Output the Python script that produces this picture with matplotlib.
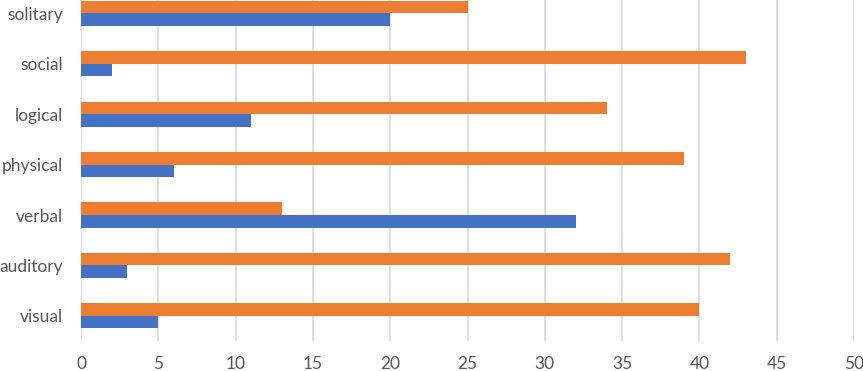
import matplotlib.pyplot as plt
import numpy as np

styles = ["visual", "auditory", "verbal", "physical", "logical", "social", "solitary"]
blue_vals = [5, 3, 32, 6, 11, 2, 20]
orange_vals = [40, 42, 13, 39, 34, 43, 25]
x_ticks = [0, 5, 10, 15, 20, 25, 30, 35, 40, 45, 50]

plt.rcParams['font.family'] = ['Lato', 'DejaVu Sans']

fig = plt.figure(figsize=(8.63, 3.71), dpi=100)
ax = fig.add_axes([81 / 863, 30 / 371, (854 - 81) / 863, (341 + 11.7) / 371])

y = np.arange(len(styles))
h = 0.25
ax.barh(y - h / 2, blue_vals, height=h, color="#4472C4", zorder=3)
ax.barh(y + h / 2, orange_vals, height=h, color="#ED7D31", zorder=3)

ax.set_xlim(0, 50)
ax.set_ylim(-0.5, 6.5)
ax.set_xticks(x_ticks)
ax.set_yticks(y)
ax.set_yticklabels(styles)
ax.xaxis.grid(True, color="#D9D9D9", linewidth=1.2, zorder=0)
ax.tick_params(axis="x", length=0, pad=11, labelsize=12.5, labelcolor="#595959")
ax.tick_params(axis="y", length=0, pad=13, labelsize=12.5, labelcolor="#595959")
for s in ax.spines.values():
    s.set_visible(False)

fig.savefig("out.png", dpi=100)
